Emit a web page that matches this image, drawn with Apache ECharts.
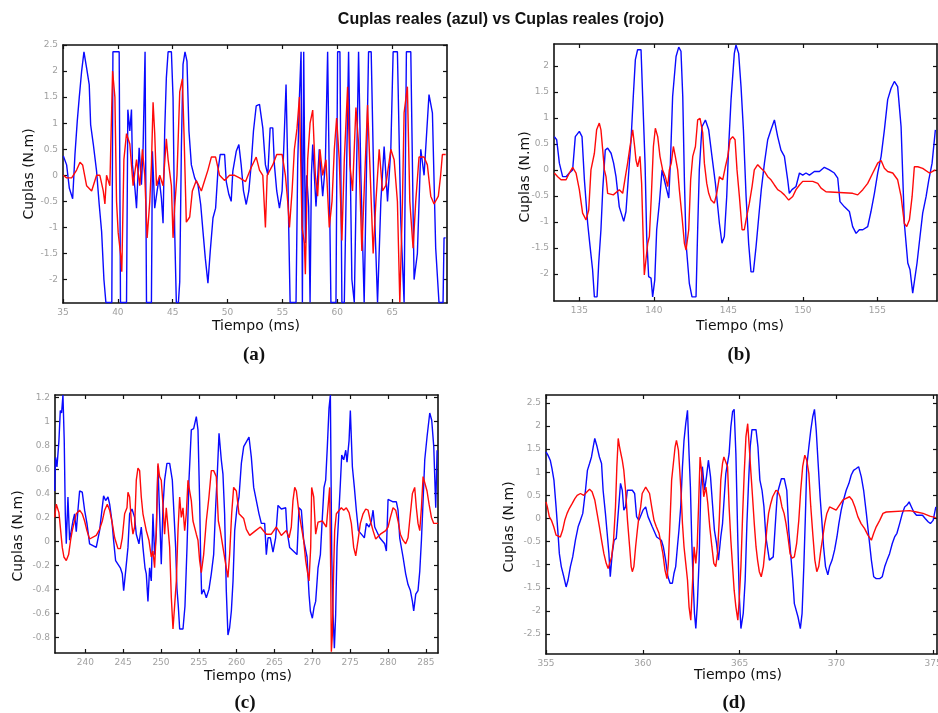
<!DOCTYPE html>
<html><head><meta charset="utf-8">
<script src="https://cdn.jsdelivr.net/npm/echarts@6/dist/echarts.min.js"></script>
<style>html,body{margin:0;padding:0;background:#fff}#c{width:938px;height:713px}</style>
</head><body><div id="c"></div>
<script>
// ---------- (a) ----------
const aBlueT=[35.03,35.33,35.58,35.88,36.09,36.30,36.48,36.70,36.91,37.15,37.39,37.52,37.76,38.06,38.30,38.52,38.73,38.91,39.45,39.55,40.12,40.24,40.79,40.91,41.09,41.24,41.33,41.55,41.70,41.94,42.15,42.30,42.48,42.61,43.06,43.15,43.36,43.58,43.76,43.97,44.12,44.27,44.42,44.58,44.88,45.03,45.18,45.33,45.52,45.64,45.79,45.94,46.12,46.30,46.48,46.70,47.00,47.30,47.55,47.76,47.97,48.21,48.42,48.67,48.91,49.12,49.33,49.73,49.88,50.12,50.33,50.48,50.79,51.03,51.24,51.45,51.70,51.94,52.15,52.36,52.61,52.91,53.21,53.45,53.67,53.88,54.12,54.27,54.48,54.73,54.97,55.18,55.33,55.48,55.58,55.70,56.24,56.39,56.55,56.70,56.82,56.94,57.09,57.21,57.39,57.52,57.64,57.76,58.06,58.36,58.67,58.91,59.12,59.42,59.88,60.03,60.24,60.42,60.64,61.03,61.33,61.55,61.94,62.15,62.45,62.85,63.09,63.36,63.67,63.97,64.27,64.58,64.88,65.09,65.48,65.79,66.09,66.30,66.70,67.00,67.30,67.61,67.91,68.36,68.67,68.97,69.27,69.64,69.73,69.88];
const aBlueV=[0.37,0.2,-0.25,-0.45,0.4,1.04,1.49,2.0,2.37,2.06,1.74,0.97,0.6,0.08,-0.56,-1.08,-2.0,-2.44,-2.44,2.37,2.37,-2.44,-2.44,1.26,0.85,1.26,0.2,-0.24,-0.63,0.53,-0.18,0.53,2.37,-2.44,-2.44,0.46,-0.63,-0.3,-0.05,-0.44,-0.92,0.85,1.87,2.37,2.37,1.49,-1.08,-2.44,-2.44,-2.04,0.53,2.13,2.37,2.19,0.85,0.2,-0.05,-0.18,-0.56,-1.08,-1.59,-2.07,-1.46,-0.82,-0.63,0.08,0.4,0.4,-0.12,-0.37,-0.5,0.08,0.46,0.59,0.2,-0.3,-0.56,-0.3,0.2,0.85,1.33,1.36,0.91,0.2,0.01,0.91,0.91,0.2,-0.3,-0.63,-0.3,0.85,1.74,0.2,-1.08,-2.44,-2.44,0.2,1.5,2.37,-2.44,2.37,-1.3,0.0,-0.6,-2.44,0.0,0.59,-0.6,0.5,-0.4,0.2,2.37,-2.44,-2.44,2.37,2.37,-2.44,-2.44,2.37,-2.0,-2.44,2.37,0.0,-2.44,2.37,2.37,-0.5,-2.44,-0.5,0.55,-0.5,0.5,2.37,2.37,-0.9,-2.44,2.37,2.37,-2.0,-1.5,0.5,0.0,1.55,1.2,-1.4,-2.44,-2.44,-1.2,-1.2];
const aRedT=[35.03,35.33,35.79,36.24,36.55,36.79,37.15,37.61,38.06,38.36,38.67,38.82,38.97,39.27,39.52,39.73,39.88,40.03,40.24,40.36,40.55,40.79,41.09,41.39,41.70,42.00,42.24,42.45,42.67,42.91,43.06,43.21,43.36,43.52,43.82,44.12,44.42,44.58,44.88,45.03,45.18,45.39,45.64,45.88,46.03,46.24,46.55,46.79,47.15,47.61,47.91,48.21,48.52,48.91,49.27,49.73,50.18,50.64,51.09,51.64,52.15,52.61,52.91,53.21,53.45,53.61,54.12,54.48,54.97,55.27,55.48,55.64,55.88,56.09,56.33,56.55,56.79,57.00,57.09,57.30,57.52,57.76,58.00,58.21,58.42,58.67,58.97,59.27,59.52,59.73,59.94,60.18,60.42,60.64,60.94,61.15,61.39,61.70,61.94,62.24,62.45,62.76,62.97,63.27,63.52,63.82,64.12,64.42,64.88,65.18,65.48,65.70,65.94,66.09,66.39,66.61,66.91,67.15,67.45,67.91,68.21,68.52,68.82,69.21,69.42,69.58,69.88];
const aRedV=[0.0,-0.05,-0.05,0.1,0.25,0.2,-0.2,-0.3,0.0,0.0,-0.3,-0.55,0.0,-0.2,2.0,1.5,-0.5,-1.1,-1.5,-1.85,0.3,0.8,0.6,-0.2,0.3,-0.2,0.5,0.0,-1.2,-0.5,0.2,1.4,0.8,-0.2,0.0,-0.2,0.7,0.3,-0.2,-1.2,-0.6,0.0,1.6,1.85,0.8,-0.9,-0.8,-0.3,-0.1,-0.3,-0.1,0.1,0.35,0.35,0.0,-0.1,0.0,0.0,-0.05,-0.12,0.15,0.35,0.1,0.0,-1.0,0.0,0.2,0.4,0.4,0.0,-0.5,-1.0,-0.3,0.5,0.9,1.5,-1.0,-1.3,-1.9,0.3,1.0,1.25,0.0,-0.4,0.5,0.0,0.3,-1.0,-0.5,0.5,1.1,0.3,-1.25,0.3,1.7,0.2,-0.3,1.3,0.6,-1.45,-0.3,1.35,0.2,-1.5,-0.5,0.5,-0.3,-0.2,0.5,0.3,-0.5,-2.44,-0.5,1.2,1.7,-0.5,-1.4,-0.5,0.35,0.35,0.2,-0.4,-0.55,-0.4,0.0,0.4,0.4];
const aXTicks=[35,40,45,50,55,60,65];
const aYTicks=[-2,-1.5,-1,-0.5,0,0.5,1,1.5,2,2.5];

// ---------- (b) ----------
const bBlueT=[133.32,133.48,133.66,133.88,134.11,134.33,134.55,134.73,135.0,135.18,135.34,135.56,135.72,135.89,136.01,136.19,136.30,136.45,136.57,136.74,136.90,137.13,137.30,137.46,137.68,137.98,138.13,138.31,138.47,138.62,138.76,138.91,139.14,139.25,139.41,139.52,139.65,139.81,139.92,140.06,140.19,140.37,140.55,140.70,140.86,141.0,141.11,141.26,141.49,141.67,141.82,141.94,142.05,142.16,142.38,142.56,142.83,142.94,143.05,143.23,143.46,143.68,143.90,144.13,144.40,144.57,144.73,144.89,145.02,145.18,145.40,145.51,145.69,145.85,146.01,146.19,146.36,146.52,146.68,146.86,147.04,147.21,147.42,147.64,147.86,148.09,148.31,148.53,148.76,148.98,149.09,149.27,149.54,149.77,149.99,150.21,150.44,150.77,151.11,151.44,151.78,152.11,152.34,152.49,152.79,153.12,153.34,153.57,153.79,154.02,154.35,154.57,154.80,155.02,155.25,155.47,155.69,155.92,156.14,156.36,156.59,156.81,157.04,157.19,157.37,157.48,157.66,157.86,158.04,158.27,158.45,158.67,158.89];
const bBlueV=[0.64,0.58,0.13,-0.13,-0.13,-0.06,0.0,0.64,0.74,0.64,-0.19,-1.03,-1.47,-1.92,-2.44,-2.44,-1.79,-1.15,-0.38,0.38,0.42,0.32,0.13,-0.13,-0.71,-0.99,-0.80,-0.06,0.58,1.41,2.12,2.31,2.31,1.41,0.13,-1.28,-2.05,-2.08,-2.44,-2.12,-1.15,-0.64,0.0,-0.19,-0.38,-0.54,0.13,1.41,2.18,2.36,2.28,1.41,-0.19,-1.41,-2.18,-2.44,-2.44,-1.15,0.0,0.83,0.96,0.77,0.26,-0.26,-1.03,-1.41,-1.28,-0.51,0.45,1.35,2.24,2.40,2.24,1.60,0.77,-0.51,-1.41,-1.96,-1.96,-1.47,-0.90,-0.38,0.13,0.58,0.77,0.96,0.64,0.38,0.26,-0.19,-0.45,-0.38,-0.32,-0.06,-0.10,-0.06,-0.10,-0.03,-0.03,0.05,0.0,-0.06,-0.16,-0.61,-0.71,-0.80,-1.09,-1.22,-1.15,-1.15,-1.09,-0.80,-0.45,-0.06,0.26,0.77,1.35,1.57,1.70,1.60,0.83,-1.03,-1.79,-1.92,-2.37,-2.40,-1.79,-1.28,-0.83,-0.51,-0.19,0.13,0.77];
const bRedT=[133.32,133.55,133.77,134.11,134.33,134.55,134.78,135.0,135.22,135.45,135.63,135.78,136.01,136.16,136.34,136.45,136.57,136.68,136.79,136.90,137.28,137.68,137.91,138.09,138.24,138.40,138.58,138.71,138.80,138.91,139.07,139.18,139.30,139.36,139.47,139.59,139.70,139.83,139.97,140.10,140.26,140.41,140.59,140.77,140.93,141.04,141.17,141.31,141.44,141.60,141.71,141.89,142.05,142.16,142.34,142.47,142.61,142.79,142.94,143.10,143.28,143.39,143.55,143.68,143.84,144.06,144.22,144.40,144.62,144.80,144.96,145.11,145.29,145.45,145.58,145.74,145.92,146.07,146.23,146.41,146.59,146.74,146.97,147.19,147.42,147.64,147.86,148.09,148.31,148.53,148.76,149.05,149.32,149.54,149.77,149.99,150.66,151.0,151.22,151.55,153.34,153.68,154.02,154.35,154.69,155.02,155.25,155.47,155.69,156.03,156.36,156.59,156.81,156.97,157.15,157.33,157.48,157.71,158.04,158.49,158.89];
const bRedV=[-0.06,-0.13,-0.19,-0.19,-0.06,0.05,-0.06,-0.38,-0.83,-0.96,-0.77,0.0,0.32,0.77,0.90,0.77,0.38,0.0,-0.13,-0.45,-0.48,-0.38,-0.45,-0.13,0.13,0.45,0.77,0.45,0.19,0.06,0.26,-0.26,-1.47,-2.02,-1.99,-1.41,-1.28,-0.51,0.45,0.80,0.64,0.26,0.0,-0.13,-0.32,0.0,0.13,0.45,0.26,0.0,-0.38,-0.90,-1.41,-1.54,-1.15,-0.19,0.26,0.45,0.96,0.99,0.71,0.13,-0.26,-0.45,-0.58,-0.64,-0.45,-0.13,-0.19,0.06,0.26,0.58,0.64,0.58,0.0,-0.51,-1.15,-1.15,-0.90,-0.64,-0.32,0.0,0.10,0.03,-0.03,-0.13,-0.19,-0.29,-0.38,-0.42,-0.48,-0.58,-0.51,-0.38,-0.29,-0.22,-0.22,-0.26,-0.35,-0.42,-0.45,-0.48,-0.38,-0.26,-0.06,0.13,0.18,0.03,-0.03,-0.06,-0.19,-0.51,-1.03,-1.09,-0.96,-0.51,0.06,0.06,0.03,-0.06,0.0];
const bXTicks=[135,140,145,150,155];
const bYTicks=[-2,-1.5,-1,-0.5,0,0.5,1,1.5,2];

// ---------- (c) ----------
const cBlueT=[235.95,236.08,236.26,236.52,236.70,236.87,237.05,237.22,237.36,237.49,237.71,237.93,238.37,238.59,238.81,239.03,239.25,239.60,239.91,240.22,240.57,241.45,241.89,242.42,242.69,243.0,243.22,243.52,243.74,244.01,244.63,244.89,245.07,245.33,245.64,245.86,246.17,246.52,246.74,247.09,247.40,247.62,247.89,248.06,248.28,248.50,248.72,248.94,249.16,249.38,249.60,249.82,250.04,250.26,250.48,250.79,251.15,251.50,251.72,251.94,252.11,252.29,252.47,252.91,253.17,253.44,253.70,254.01,254.32,254.67,254.89,255.11,255.24,255.37,255.64,255.99,256.34,256.65,256.96,257.22,257.44,257.67,257.97,258.19,258.41,258.63,258.85,259.07,259.30,259.52,259.74,260.04,260.31,260.62,260.93,261.28,261.63,261.94,262.25,262.60,262.95,263.26,263.70,263.92,264.14,264.45,264.80,265.15,265.46,265.90,266.48,266.65,267.00,267.97,268.24,268.55,268.85,269.30,269.56,269.74,270.0,270.22,270.44,270.75,271.06,271.32,271.54,271.76,271.98,272.20,272.38,272.56,272.73,272.91,273.08,273.26,273.52,273.70,273.88,274.14,274.41,274.58,274.85,275.02,275.29,275.55,275.81,276.08,276.61,276.87,277.14,277.49,277.80,278.02,278.24,278.90,279.56,279.78,280.0,280.66,281.10,281.32,281.54,281.98,282.33,282.64,282.95,283.22,283.39,283.66,283.96,284.19,284.41,284.63,284.85,285.15,285.51,285.77,286.04,286.30,286.48];
const cBlueV=[0.42,0.70,0.62,0.84,1.09,1.07,1.22,0.84,0.23,-0.02,0.37,0.01,0.17,0.23,0.08,0.26,0.42,0.41,0.26,0.15,-0.02,-0.05,0.09,0.38,0.34,0.37,0.31,0.17,0.01,-0.16,-0.22,-0.27,-0.41,-0.25,-0.05,0.23,0.27,0.20,0.06,-0.02,0.12,-0.05,-0.22,-0.27,-0.50,-0.22,-0.33,0.23,-0.11,0.06,0.63,0.23,-0.19,0.28,0.51,0.65,0.65,0.51,0.23,-0.05,-0.39,-0.54,-0.73,-0.73,-0.54,-0.05,0.51,0.93,0.94,1.04,0.93,0.34,-0.13,-0.44,-0.40,-0.47,-0.40,-0.27,-0.11,0.28,0.56,0.90,0.68,0.56,0.23,-0.41,-0.78,-0.72,-0.58,-0.33,0.09,0.28,0.37,0.65,0.79,0.83,0.87,0.70,0.45,0.34,0.23,0.15,0.15,-0.11,0.03,0.03,-0.09,0.03,0.30,0.27,0.28,0.09,-0.05,-0.11,0.28,0.26,0.01,-0.13,-0.44,-0.58,-0.64,-0.55,-0.50,-0.22,-0.11,0.20,0.45,0.51,0.79,1.11,1.22,-0.11,-0.61,-0.89,-0.61,-0.05,0.26,0.48,0.72,0.68,0.76,0.66,0.84,1.09,0.62,0.45,0.26,0.09,0.05,0.03,0.15,0.12,0.17,0.26,0.12,0.03,-0.02,-0.08,0.35,0.33,0.33,0.26,0.03,-0.13,-0.27,-0.36,-0.41,-0.50,-0.58,-0.44,-0.41,-0.25,0.01,0.34,0.68,0.87,1.07,1.01,0.79,0.28,0.76];
const cRedT=[235.95,236.17,236.52,236.74,236.96,237.18,237.49,237.80,238.06,238.28,238.50,238.81,239.25,239.60,239.91,240.22,240.57,241.45,241.89,242.25,242.56,242.91,243.22,243.57,243.88,244.32,244.63,244.89,245.20,245.51,245.64,245.86,246.08,246.30,246.52,246.74,246.96,247.18,247.40,247.62,248.06,248.41,248.72,248.94,249.16,249.38,249.60,249.82,250.04,250.26,250.48,250.70,250.93,251.15,251.37,251.59,251.81,252.03,252.25,252.47,252.69,252.91,253.13,253.35,253.57,253.79,254.01,254.23,254.67,254.89,255.11,255.33,255.64,255.99,256.34,256.65,256.96,257.31,257.58,257.84,258.19,258.63,258.85,259.07,259.34,259.60,259.96,260.31,260.93,261.28,261.72,262.51,263.13,263.92,264.58,265.24,265.90,266.56,266.92,267.22,267.44,267.67,267.89,268.19,268.55,268.85,269.12,269.34,269.56,269.78,269.91,270.18,270.44,270.75,271.32,271.85,272.07,272.29,272.42,272.51,272.64,272.82,272.95,273.17,273.83,274.14,274.49,274.85,275.15,275.46,275.73,276.04,276.34,276.70,277.05,277.36,277.67,278.02,278.37,278.99,279.69,280.0,280.31,280.66,281.01,281.32,281.63,281.98,282.33,282.64,282.95,283.22,283.52,283.74,283.96,284.19,284.41,284.63,284.89,285.15,285.42,285.73,286.04,286.61];
const cRedV=[0.20,0.31,0.24,0.23,-0.05,-0.13,-0.16,-0.11,0.01,0.09,0.15,0.23,0.26,0.23,0.17,0.09,0.02,0.05,0.10,0.17,0.26,0.31,0.26,0.15,0.03,-0.06,-0.06,0.03,0.23,0.28,0.41,0.37,0.17,0.06,0.12,0.51,0.61,0.59,0.37,0.23,0.09,0.01,-0.13,-0.08,-0.22,0.09,0.65,0.54,0.51,0.31,0.06,0.28,0.12,-0.05,-0.47,-0.73,-0.73,-0.33,0.09,0.37,0.20,0.28,0.09,0.23,0.51,0.42,0.34,0.17,0.06,0.01,-0.16,-0.26,-0.11,0.17,0.37,0.59,0.59,0.54,0.17,0.09,-0.05,-0.22,-0.30,-0.11,0.23,0.45,0.42,0.23,0.19,0.10,0.05,0.09,0.12,0.06,0.06,0.12,0.05,0.09,0.03,0.12,0.34,0.45,0.42,0.26,0.12,0.01,-0.16,-0.25,-0.33,-0.05,0.45,0.37,0.06,0.16,0.17,0.12,0.12,0.45,-0.22,-0.92,-0.78,-0.22,0.09,0.23,0.28,0.26,0.28,0.24,0.15,-0.05,-0.12,0.01,0.15,0.23,0.27,0.26,0.17,0.09,0.02,0.06,0.09,0.12,0.20,0.28,0.26,0.17,0.06,0.01,-0.02,0.03,0.23,0.40,0.45,0.28,0.15,0.09,0.28,0.54,0.55,0.42,0.31,0.20,0.15,0.15];
const cXTicks=[240,245,250,255,260,265,270,275,280,285];
const cYTicks=[-0.8,-0.6,-0.4,-0.2,0,0.2,0.4,0.6,0.8,1,1.2];

// ---------- (d) ----------
const dBlueT=[355.0,355.10,355.22,355.31,355.41,355.52,355.62,355.69,355.79,355.92,356.04,356.14,356.26,356.38,356.52,356.66,356.78,356.90,357.04,357.14,357.25,357.35,357.44,357.52,357.64,357.76,357.87,357.95,358.07,358.16,358.25,358.32,358.42,358.52,358.63,358.73,358.85,358.94,359.02,359.11,359.20,359.46,359.58,359.68,359.80,360.01,360.15,360.27,360.49,360.72,360.96,361.06,361.18,361.30,361.41,361.53,361.61,361.70,361.79,361.87,361.96,362.05,362.13,362.22,362.31,362.39,362.46,362.53,362.60,362.67,362.74,362.82,362.91,363.00,363.08,363.19,363.29,363.39,363.50,363.60,363.70,363.81,363.91,364.03,364.12,364.21,364.29,364.46,364.55,364.64,364.72,364.81,364.91,364.98,365.07,365.19,365.29,365.38,365.47,365.55,365.64,365.85,365.95,366.05,366.16,366.26,366.36,366.54,366.74,366.85,366.95,367.16,367.31,367.44,367.54,367.64,367.75,367.83,368.02,368.14,368.23,368.32,368.40,368.47,368.58,368.68,368.78,368.87,368.96,369.06,369.16,369.25,369.34,369.44,369.56,369.65,369.78,369.91,370.03,370.13,370.25,370.37,370.51,370.65,370.77,370.89,371.03,371.15,371.29,371.41,371.55,371.68,371.81,371.93,372.06,372.24,372.37,372.50,372.62,372.75,372.89,373.01,373.13,373.27,373.41,373.53,373.65,373.76,373.88,374.00,374.14,374.45,374.59,374.74,374.86,375.0,375.14];
const dBlueV=[1.44,1.37,1.26,1.08,0.83,0.25,-0.32,-0.76,-1.04,-1.26,-1.48,-1.33,-1.04,-0.83,-0.47,-0.18,-0.04,0.11,0.61,1.04,1.19,1.33,1.55,1.73,1.55,1.33,1.19,0.61,0.11,-0.32,-0.76,-1.26,-0.76,-0.47,-0.43,0.11,0.76,0.61,0.18,0.25,0.61,0.61,0.54,0.04,-0.04,0.18,0.25,0.04,-0.18,-0.40,-0.47,-0.61,-0.90,-1.26,-1.40,-1.40,-1.19,-1.04,-0.61,-0.25,0.25,1.12,1.69,2.05,2.34,1.40,0.68,-0.47,-1.33,-2.05,-2.38,-1.84,-0.90,0.68,1.12,0.61,0.90,1.26,0.90,0.32,-0.25,-0.54,-0.90,-0.40,-0.11,0.47,0.97,1.40,1.98,2.31,2.36,1.40,-0.47,-1.62,-2.38,-2.05,-1.33,-0.11,0.83,1.55,1.92,1.92,1.55,0.83,0.61,0.25,-0.40,-0.90,-0.83,-0.11,0.54,0.86,0.86,0.61,-0.25,-0.76,-1.33,-1.84,-2.13,-2.38,-2.05,-1.04,0.04,1.12,1.55,1.91,2.20,2.36,1.91,1.19,0.47,-0.04,-0.61,-1.04,-1.22,-1.04,-0.90,-0.68,-0.40,-0.11,0.18,0.40,0.61,0.76,0.94,1.04,1.08,1.12,0.90,0.61,0.11,-0.40,-0.90,-1.26,-1.30,-1.30,-1.26,-1.04,-0.90,-0.76,-0.54,-0.40,-0.32,-0.11,0.11,0.25,0.29,0.36,0.25,0.14,0.07,0.07,0.0,-0.07,-0.11,-0.04,0.25];
const dRedT=[355.0,355.07,355.17,355.28,355.40,355.52,355.62,355.74,355.86,355.97,356.09,356.21,356.35,356.49,356.61,356.78,356.95,357.12,357.25,357.38,357.52,357.64,357.76,357.87,357.99,358.11,358.21,358.30,358.39,358.49,358.59,358.66,358.73,358.80,358.87,358.94,359.02,359.11,359.21,359.32,359.40,359.46,359.54,359.63,359.72,359.80,359.89,359.97,360.15,360.25,360.35,360.46,360.58,360.70,360.84,360.94,361.04,361.15,361.25,361.32,361.41,361.49,361.58,361.67,361.74,361.84,361.91,361.98,362.05,362.13,362.22,362.31,362.39,362.48,362.56,362.65,362.74,362.81,362.88,362.96,363.05,363.15,363.26,363.36,363.46,363.57,363.67,363.77,363.86,363.95,364.03,364.12,364.19,364.38,364.46,364.55,364.64,364.72,364.81,364.91,364.98,365.07,365.16,365.24,365.33,365.42,365.50,365.59,365.67,365.76,365.85,365.93,366.02,366.12,366.23,366.33,366.42,366.50,366.61,366.71,366.88,366.99,367.09,367.19,367.30,367.40,367.50,367.61,367.71,367.83,367.95,368.06,368.16,368.26,368.37,368.47,368.58,368.68,368.78,368.89,368.99,369.09,369.20,369.30,369.40,369.51,369.65,369.99,370.16,370.34,370.68,370.82,370.96,371.11,371.28,371.46,371.63,371.81,371.93,372.06,372.24,372.41,372.58,373.79,374.14,374.48,374.83,375.14];
const dRedV=[0.36,0.25,0.04,-0.04,-0.18,-0.36,-0.40,-0.40,-0.25,-0.04,0.11,0.22,0.32,0.43,0.50,0.54,0.50,0.58,0.63,0.58,0.40,0.11,-0.18,-0.47,-0.76,-0.97,-1.08,-1.04,-0.83,-0.47,0.25,1.12,1.73,1.55,1.40,1.26,1.04,0.61,-0.04,-0.61,-1.04,-1.15,-1.04,-0.61,-0.25,0.04,0.25,0.54,0.68,0.65,0.54,0.25,-0.04,-0.18,-0.32,-0.54,-0.76,-1.12,-1.30,-0.97,-0.04,0.83,1.19,1.55,1.69,1.48,1.04,0.54,-0.11,-0.61,-0.97,-1.33,-1.91,-2.20,-1.48,-0.61,-0.97,-0.61,0.25,1.33,0.97,0.47,0.68,0.32,-0.18,-0.61,-0.97,-1.04,-0.76,-0.04,0.83,1.19,1.33,1.12,0.25,-0.47,-1.04,-1.55,-1.91,-2.20,-1.77,-1.04,0.11,0.97,1.77,2.05,1.55,0.97,0.47,-0.11,-0.61,-0.90,-1.15,-1.26,-1.04,-0.61,-0.18,0.11,0.32,0.47,0.61,0.58,0.47,0.25,0.11,-0.11,-0.40,-0.76,-0.86,-0.83,-0.54,-0.04,0.61,1.12,1.37,1.26,0.97,0.25,-0.32,-0.90,-1.15,-1.04,-0.68,-0.40,-0.11,0.11,0.25,0.18,0.29,0.40,0.47,0.40,0.25,0.04,-0.11,-0.22,-0.36,-0.47,-0.32,-0.18,-0.04,0.11,0.14,0.17,0.14,0.11,0.05,0.02];
const dXTicks=[355,360,365,370,375];
const dYTicks=[-2.5,-2,-1.5,-1,-0.5,0,0.5,1,1.5,2,2.5];

const titleText='Cuplas reales (azul) vs Cuplas reales (rojo)';
const xName='Tiempo (ms)';
const yName='Cuplas (N.m)';
const panelNames=['(a)','(b)','(c)','(d)'];

// ---------- layout ----------
const panels=[
  {grid:{left:63,top:45,width:384,height:258}, x:[35,70], y:[-2.45,2.5], xt:aXTicks, yt:aYTicks, blue:[aBlueT,aBlueV], red:[aRedT,aRedV],
   xl:[256,326], yl:[29,174], pl:[254,355]},
  {grid:{left:554,top:44,width:383,height:257}, x:[133.3,159], y:[-2.52,2.42], xt:bXTicks, yt:bYTicks, blue:[bBlueT,bBlueV], red:[bRedT,bRedV],
   xl:[740,326], yl:[525,177], pl:[739,355]},
  {grid:{left:55,top:395,width:383,height:258}, x:[236,286.6], y:[-0.93,1.22], xt:cXTicks, yt:cYTicks, blue:[cBlueT,cBlueV], red:[cRedT,cRedV],
   xl:[248,676], yl:[18,536], pl:[245,703]},
  {grid:{left:546,top:395,width:391,height:259}, x:[355,375.2], y:[-2.93,2.67], xt:dXTicks, yt:dYTicks, blue:[dBlueT,dBlueV], red:[dRedT,dRedV],
   xl:[738,675], yl:[509,527], pl:[734,703]}
];

const zip=(t,v)=>t.map((x,i)=>[x,v[i]]);
const lineC='#111', tickFont={color:'#a0a0a0',fontSize:9,fontFamily:'DejaVu Sans'};
const grids=[], xAxes=[], yAxes=[], series=[], graphics=[];
panels.forEach((p,i)=>{
  grids.push(Object.assign({outerBoundsMode:'none',containLabel:false},p.grid));
  const base={type:'value',gridIndex:i,splitLine:{show:false},axisLine:{show:true,onZero:false,lineStyle:{color:lineC,width:1.6}}};
  xAxes.push(Object.assign({},base,{position:'bottom',min:p.x[0],max:p.x[1],
    axisTick:{show:true,inside:true,length:4,customValues:p.xt,lineStyle:{color:lineC,width:1.2}},
    axisLabel:Object.assign({show:true,margin:5,customValues:p.xt,formatter:v=>String(v)},tickFont)}));
  xAxes.push(Object.assign({},base,{position:'top',min:p.x[0],max:p.x[1],
    axisTick:{show:true,inside:true,length:4,customValues:p.xt,lineStyle:{color:lineC,width:1.2}},
    axisLabel:{show:false}}));
  yAxes.push(Object.assign({},base,{position:'left',min:p.y[0],max:p.y[1],
    axisTick:{show:true,inside:true,length:4,customValues:p.yt,lineStyle:{color:lineC,width:1.2}},
    axisLabel:Object.assign({show:true,margin:5,customValues:p.yt,formatter:v=>String(v)},tickFont)}));
  yAxes.push(Object.assign({},base,{position:'right',min:p.y[0],max:p.y[1],
    axisTick:{show:true,inside:true,length:4,customValues:p.yt,lineStyle:{color:lineC,width:1.2}},
    axisLabel:{show:false}}));
  const common={type:'line',xAxisIndex:2*i,yAxisIndex:2*i,showSymbol:false,symbol:'none',clip:true,animation:false,silent:true};
  series.push(Object.assign({},common,{data:zip(p.blue[0],p.blue[1]),lineStyle:{color:'#0a0aff',width:1.4},z:2}));
  series.push(Object.assign({},common,{data:zip(p.red[0],p.red[1]),lineStyle:{color:'#ff0a0a',width:1.4},z:3}));
  graphics.push({type:'text',x:p.xl[0],y:p.xl[1],style:{text:xName,textAlign:'center',textVerticalAlign:'middle',fill:'#111',font:'14px "DejaVu Sans"'}});
  graphics.push({type:'text',x:p.yl[0],y:p.yl[1],rotation:Math.PI/2,style:{text:yName,textAlign:'center',textVerticalAlign:'middle',fill:'#111',font:'14px "DejaVu Sans"'}});
  graphics.push({type:'text',x:p.pl[0],y:p.pl[1],style:{text:panelNames[i],textAlign:'center',textVerticalAlign:'middle',fill:'#111',font:'bold 19px "Liberation Serif"'}});
});
graphics.push({type:'text',x:501,y:20,style:{text:titleText,textAlign:'center',textVerticalAlign:'middle',fill:'#111',font:'bold 16px "Liberation Sans"'}});

const chart=echarts.init(document.getElementById('c'),null,{renderer:'canvas'});
chart.setOption({animation:false,backgroundColor:'#fff',grid:grids,xAxis:xAxes,yAxis:yAxes,series:series,graphic:graphics});
</script></body></html>
